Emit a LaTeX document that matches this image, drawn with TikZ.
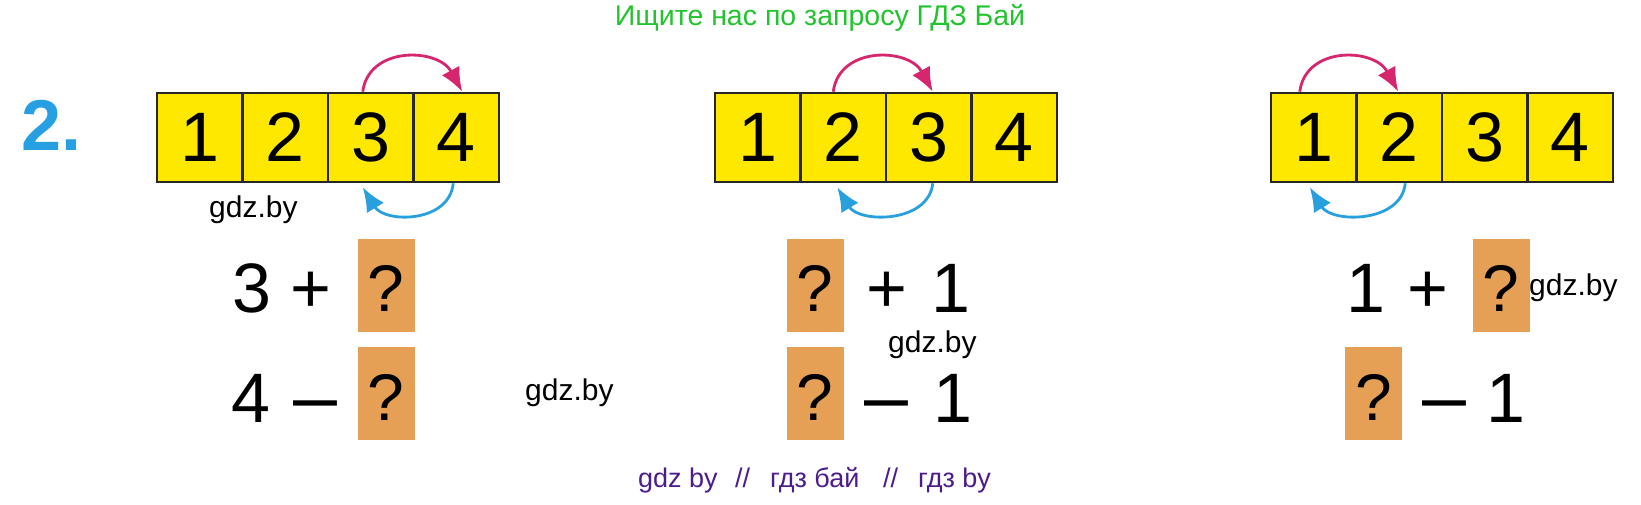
\documentclass[tikz,border=0pt]{standalone}
\usepackage{fontspec}
\setmainfont{Liberation Sans}
\usetikzlibrary{arrows.meta}
\definecolor{cellyellow}{RGB}{255,232,0}
\definecolor{qorange}{RGB}{230,160,86}
\definecolor{arcpink}{RGB}{214,38,110}
\definecolor{arcblue}{RGB}{40,160,222}
\definecolor{numblue}{RGB}{38,160,226}
\definecolor{wmgreen}{RGB}{34,196,46}
\definecolor{wmpurple}{RGB}{76,28,140}
\tikzset{
  cell/.style={draw=black!85, line width=2.6pt, fill=cellyellow, minimum width=85.5pt, minimum height=89pt, inner sep=0pt, font=\fontsize{70}{80}\selectfont},
  qbox/.style={fill=qorange, minimum width=57pt, minimum height=93pt, inner sep=0pt},
  qmark/.style={anchor=base, inner sep=0pt, font=\fontsize{66}{75}\selectfont},
  eqtxt/.style={anchor=base, inner sep=0pt, font=\fontsize{70}{80}\selectfont},
  dashtxt/.style={anchor=base, inner sep=0pt, font=\fontsize{79}{85}\selectfont},
  wm/.style={anchor=base west, inner sep=0pt, font=\fontsize{30}{34}\selectfont},
  bottxt/.style={anchor=base west, inner sep=0pt, text=wmpurple, font=\fontsize{27}{30}\selectfont},
  parc/.style={draw=arcpink, line width=2.8pt, -{Latex[length=24pt,width=20pt]}},
  barc/.style={draw=arcblue, line width=2.8pt, -{Latex[length=24pt,width=20pt]}},
}
\begin{document}
\begin{tikzpicture}[x=1pt,y=-1pt]
\useasboundingbox (0,0) rectangle (1641,504);
% title texts
\node[anchor=base, inner sep=0pt, text=wmgreen, font=\fontsize{28.5}{32}\selectfont] (top) at (820,25) {Ищите нас по запросу ГДЗ Бай};
\node[bottxt] (b1) at (638,487) {gdz by};
\node[bottxt] (b2) at (735,487) {//};
\node[bottxt] (b3) at (770,487) {гдз бай};
\node[bottxt] (b4) at (883,487) {//};
\node[bottxt] (b5) at (918,487) {гдз by};
% exercise number
\node[anchor=base west, inner sep=0pt, text=numblue, font=\fontsize{72}{80}\selectfont\bfseries] (num) at (21,150) {2.};
% strips
\foreach \s/\x in {1/157,2/715,3/1271}{
  \foreach \i in {1,...,4}{
    \node[cell] (c\s\i) at ({\x+85.5*(\i-0.5)},137.5) {\i};
  }
}
% arcs strip 1: 3 -> 4 above, 4 -> 3 below
\draw[parc] ([xshift=-8pt]c13.north) .. controls +(6,-46) and +(-24,-44) .. ([xshift=6pt]c14.north);
\draw[barc] ([xshift=-3pt]c14.south) .. controls +(-4,40) and +(22,36) .. ([xshift=-8pt,yshift=-4pt]c13.south);
% arcs strip 2: 2 -> 3 above, 3 -> 2 below
\draw[parc] ([xshift=-10pt]c22.north) .. controls +(6,-46) and +(-24,-44) .. ([xshift=4pt]c23.north);
\draw[barc] ([xshift=4pt]c23.south) .. controls +(-4,40) and +(22,36) .. ([xshift=-6pt,yshift=-4pt]c22.south);
% arcs strip 3: 1 -> 2 above, 2 -> 1 below
\draw[parc] ([xshift=-14pt]c31.north) .. controls +(6,-46) and +(-24,-44) .. ([xshift=-1pt]c32.north);
\draw[barc] ([xshift=6pt]c32.south) .. controls +(-4,40) and +(22,36) .. ([xshift=-4pt,yshift=-4pt]c31.south);
% equations column 1
\node[eqtxt] (e1a) at (252,312) {3};
\node[eqtxt] (e1b) at (311,312) {+};
\node[qbox] (q1a) at (386,285) {};
\node[qmark] (m1a) at ([yshift=-26pt]q1a.center) {?};
\node[eqtxt] (e1c) at (251,422) {4};
\node[dashtxt] (e1d) at (315,423) {–};
\node[qbox] (q1b) at (386,393) {};
\node[qmark] (m1b) at ([yshift=-27pt]q1b.center) {?};
% equations column 2
\node[qbox] (q2a) at (815,285) {};
\node[qmark] (m2a) at ([yshift=-26pt]q2a.center) {?};
\node[eqtxt] (e2a) at (887,312) {+};
\node[eqtxt] (e2b) at (951,312) {1};
\node[qbox] (q2b) at (815,393) {};
\node[qmark] (m2b) at ([yshift=-27pt]q2b.center) {?};
\node[dashtxt] (e2c) at (886,423) {–};
\node[eqtxt] (e2d) at (953,422) {1};
% equations column 3
\node[eqtxt] (e3a) at (1366,312) {1};
\node[eqtxt] (e3b) at (1428,312) {+};
\node[qbox] (q3a) at (1501,285) {};
\node[qmark] (m3a) at ([yshift=-26pt]q3a.center) {?};
\node[qbox] (q3b) at (1373.5,393) {};
\node[qmark] (m3b) at ([yshift=-27pt]q3b.center) {?};
\node[dashtxt] (e3c) at (1444,423) {–};
\node[eqtxt] (e3d) at (1506,422) {1};
% watermarks
\node[wm] (w1) at (209,217) {gdz.by};
\node[wm] (w2) at (525,400) {gdz.by};
\node[wm] (w3) at (888,352) {gdz.by};
\node[wm] (w4) at (1529,295) {gdz.by};
\end{tikzpicture}
\end{document}
